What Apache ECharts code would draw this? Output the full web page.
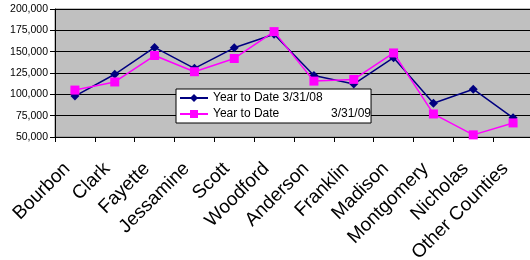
<!DOCTYPE html>
<html>
<head>
<meta charset="utf-8">
<script src="https://cdn.jsdelivr.net/npm/echarts@6/dist/echarts.min.js"></script>
<style>
  html, body { margin: 0; padding: 0; background: #fff; }
  #chart { width: 530px; height: 260px; }
</style>
</head>
<body>
<div id="chart"></div>
<script>
const counties = ['Bourbon', 'Clark', 'Fayette', 'Jessamine', 'Scott', 'Woodford', 'Anderson',
  'Franklin', 'Madison', 'Montgomery', 'Nicholas', 'Other Counties']
const ytd08 = [98000, 123500, 155000, 130500, 154500, 170500, 122000, 112000, 143000, 89500, 106000, 72500]
const ytd09 = [105000, 114500, 145500, 126500, 142000, 173500, 115500, 117500, 148500, 77000, 52500, 66500]
const seriesNames = ['Year to Date 3/31/08', 'Year to Date 3/31/09']

const chart = echarts.init(document.getElementById('chart'))

const option = {
  animation: false,
  backgroundColor: '#fff',
  grid: {
    left: 55,
    right: -3,
    top: 9,
    bottom: 123,
    outerBoundsMode: 'none',
    show: true,
    backgroundColor: '#c0c0c0',
    borderColor: '#808080',
    borderWidth: 1
  },
  legend: {
    orient: 'vertical',
    left: 176,
    top: 89,
    backgroundColor: '#fff',
    borderColor: '#000',
    borderWidth: 1,
    padding: [3, 0, 3, 3],
    itemGap: 4,
    itemWidth: 28,
    itemHeight: 10,
    data: seriesNames,
    textStyle: {
      fontFamily: 'Liberation Sans, Arial',
      fontSize: 12,
      color: '#000',
      rich: {
        l: { fontFamily: 'Liberation Sans, Arial', fontSize: 12, width: 118 },
        r: { fontFamily: 'Liberation Sans, Arial', fontSize: 12 }
      }
    },
    formatter: (name) => {
      if (name === seriesNames[1]) return '{l|Year to Date}{r|3/31/09}'
      return name
    }
  },
  xAxis: {
    type: 'category',
    data: counties,
    boundaryGap: true,
    axisLine: { lineStyle: { color: '#000', width: 1 } },
    axisTick: { show: true, alignWithLabel: false, interval: 0, length: 5, lineStyle: { color: '#000' } },
    axisLabel: {
      interval: 0,
      rotate: 45,
      margin: 21,
      padding: [0, 11, 0, 0],
      color: '#000',
      fontFamily: 'Liberation Sans, Arial',
      fontSize: 19
    },
    splitLine: { show: false }
  },
  yAxis: {
    type: 'value',
    min: 50000,
    max: 200000,
    interval: 25000,
    axisLine: { show: true, lineStyle: { color: '#000' } },
    axisTick: { show: true, length: 5, lineStyle: { color: '#000' } },
    axisLabel: {
      margin: 7,
      color: '#000',
      fontFamily: 'Liberation Sans, Arial',
      fontSize: 10.5,
      formatter: (v) => v.toLocaleString('en-US')
    },
    splitLine: { show: true, lineStyle: { color: '#000', width: 1 } }
  },
  series: [
    {
      name: seriesNames[0],
      type: 'line',
      data: ytd08,
      symbol: 'diamond',
      symbolSize: 9,
      lineStyle: { color: '#000080', width: 1.5 },
      itemStyle: { color: '#000080' },
      z: 2
    },
    {
      name: seriesNames[1],
      type: 'line',
      data: ytd09,
      symbol: 'rect',
      symbolSize: 9,
      lineStyle: { color: '#ff00ff', width: 1.5 },
      itemStyle: { color: '#ff00ff' },
      z: 3
    }
  ]
}

chart.setOption(option)
</script>
</body>
</html>
